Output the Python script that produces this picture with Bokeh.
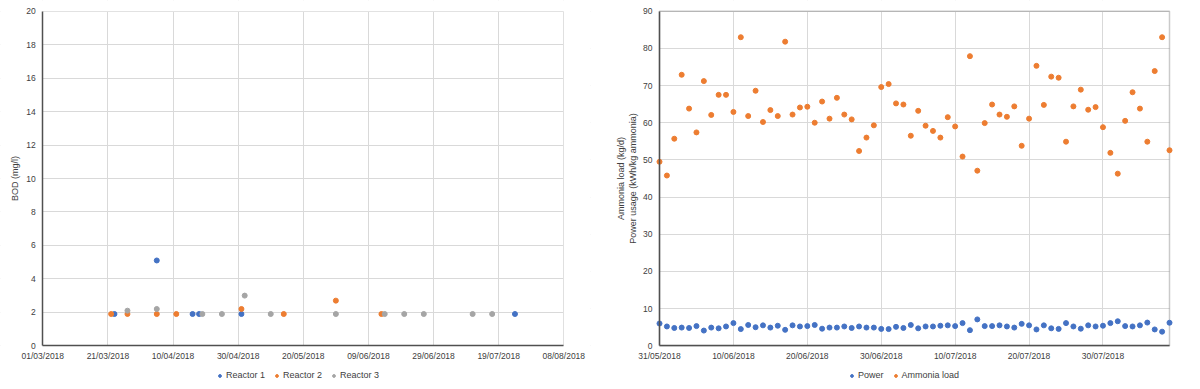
import pandas as pd
from bokeh.plotting import figure
from bokeh.models import (Range1d, FixedTicker, DatetimeTickFormatter, Legend, LegendItem,
                          ColumnDataSource, BoxAnnotation)
from bokeh.layouts import row
from bokeh.embed import file_html
from bokeh.resources import INLINE

# ---------------- data: left chart (BOD) ----------------
r1_dates = ["23/03/2018", "05/04/2018", "16/04/2018", "18/04/2018", "01/05/2018", "24/07/2018"]
r1_bod = [1.9, 5.1, 1.9, 1.9, 1.9, 1.9]
r2_dates = ["22/03/2018", "27/03/2018", "05/04/2018", "11/04/2018", "01/05/2018",
            "14/05/2018", "30/05/2018", "13/06/2018"]
r2_bod = [1.9, 1.9, 1.9, 1.9, 2.2, 1.9, 2.7, 1.9]
r3_dates = ["27/03/2018", "05/04/2018", "19/04/2018", "25/04/2018", "02/05/2018", "10/05/2018",
            "30/05/2018", "14/06/2018", "20/06/2018", "26/06/2018", "11/07/2018", "17/07/2018"]
r3_bod = [2.1, 2.2, 1.9, 1.9, 3.0, 1.9, 1.9, 1.9, 1.9, 1.9, 1.9, 1.9]
left_ticks = ["01/03/2018", "21/03/2018", "10/04/2018", "30/04/2018", "20/05/2018",
              "09/06/2018", "29/06/2018", "19/07/2018", "08/08/2018"]
left_yticks = [0, 2, 4, 6, 8, 10, 12, 14, 16, 18, 20]

# ---------------- data: right chart (ammonia / power) ----------------
right_start = "31/05/2018"
right_end = "08/08/2018"
ammonia = [49.5, 45.8, 55.7, 72.9, 63.8, 57.4, 71.2, 62.1, 67.5, 67.5,
           62.9, 83.0, 61.8, 68.6, 60.2, 63.4, 61.8, 81.8, 62.2, 64.1,
           64.3, 60.0, 65.7, 61.1, 66.7, 62.2, 60.9, 52.4, 56.0, 59.3,
           69.6, 70.4, 65.2, 64.9, 56.5, 63.2, 59.2, 57.8, 56.0, 61.5,
           59.0, 50.9, 77.9, 47.1, 59.9, 64.9, 62.2, 61.6, 64.4, 53.8,
           61.1, 75.3, 64.8, 72.4, 72.1, 54.9, 64.4, 68.9, 63.5, 64.2,
           58.8, 51.9, 46.3, 60.5, 68.2, 63.8, 54.9, 73.9, 83.0, 52.6]
power = [6.0, 5.2, 4.8, 4.9, 4.8, 5.3, 4.1, 4.9, 4.7, 5.2,
         6.1, 4.5, 5.6, 5.0, 5.5, 4.9, 5.4, 4.3, 5.5, 5.2,
         5.3, 5.6, 4.6, 4.9, 4.9, 5.2, 4.8, 5.2, 4.9, 4.9,
         4.55, 4.5, 5.1, 4.8, 5.6, 4.7, 5.2, 5.2, 5.4, 5.5,
         5.3, 6.1, 4.2, 7.1, 5.3, 5.3, 5.5, 5.2, 4.9, 5.9,
         5.5, 4.4, 5.5, 4.7, 4.55, 6.1, 5.2, 4.6, 5.5, 5.2,
         5.4, 6.1, 6.6, 5.3, 5.2, 5.5, 6.25, 4.4, 3.8, 6.2]
right_ticks = ["31/05/2018", "10/06/2018", "20/06/2018", "30/06/2018",
               "10/07/2018", "20/07/2018", "30/07/2018"]
right_yticks = [0, 10, 20, 30, 40, 50, 60, 70, 80, 90]

BLUE, ORANGE, GRAY = "#4472C4", "#ED7D31", "#A5A5A5"
TXT = "#404040"
AXIS = "#505050"
GRID = "#D9D9D9"
FONT = "Liberation Sans"

H = 389          # figure height
TOP_PX = 10.7    # pixel row (inside figure) of the top value
ZERO_PX = 345.3  # pixel row (inside figure) of the value 0


def d(s):
    return pd.to_datetime(s, dayfirst=True)


def ms(s):
    return d(s).value / 1e6


def yrange(top_val):
    per_px = top_val / (ZERO_PX - TOP_PX)
    return Range1d(-(H - ZERO_PX) * per_px, top_val + TOP_PX * per_px)


def xrange(start, end, width, left_px, right_px):
    per_px = (ms(end) - ms(start)) / (right_px - left_px)
    return Range1d(ms(start) - left_px * per_px, ms(end) + (width - right_px) * per_px)


def style(p, xticks, yticks, xstart, xend, ytop, label_standoff):
    fmt = "%d/%m/%Y"
    p.xaxis.ticker = FixedTicker(ticks=[ms(t) for t in xticks])
    p.xaxis.formatter = DatetimeTickFormatter(
        milliseconds=fmt, seconds=fmt, minsec=fmt, minutes=fmt, hourmin=fmt, hours=fmt,
        days=fmt, months=fmt, years=fmt)
    p.xaxis.fixed_location = 0
    p.xaxis.bounds = (ms(xstart), ms(xend))
    p.yaxis.ticker = FixedTicker(ticks=yticks)
    p.yaxis.fixed_location = ms(xstart)
    p.yaxis.bounds = (0, ytop)
    for ax in (p.xaxis[0], p.yaxis[0]):
        ax.major_tick_out = 0
        ax.major_tick_in = 0
        ax.minor_tick_out = 0
        ax.minor_tick_in = 0
        ax.axis_line_color = AXIS
        ax.axis_line_width = 1.5
        ax.major_label_text_font = FONT
        ax.major_label_text_font_size = "8.5px"
        ax.major_label_text_color = TXT
        ax.axis_label_text_font = FONT
        ax.axis_label_text_font_size = "9px"
        ax.axis_label_text_font_style = "normal"
        ax.axis_label_text_color = TXT
    p.yaxis.major_label_standoff = 7
    p.xaxis.major_label_standoff = 5
    p.yaxis.axis_label_standoff = label_standoff
    p.xgrid.grid_line_color = GRID
    p.ygrid.grid_line_color = GRID
    p.background_fill_color = "white"
    p.border_fill_color = "white"
    p.outline_line_color = None
    # white covers outside the plot area so the grid lines stop at its edges
    for kw in (dict(top=0), dict(bottom=ytop), dict(right=ms(xstart)), dict(left=ms(xend))):
        p.add_layout(BoxAnnotation(fill_color="white", fill_alpha=1, line_alpha=0,
                                   level="underlay", **kw))


def make_legend(items, x):
    return Legend(items=items, orientation="horizontal", location=(x, 8),
                  border_line_alpha=0, background_fill_alpha=0,
                  label_text_font=FONT, label_text_font_size="9px", label_text_color=TXT,
                  glyph_width=7, glyph_height=7, spacing=8, padding=0, margin=0,
                  label_standoff=3, label_height=12)


# ---------------- left figure ----------------
W1 = 590
p1 = figure(width=W1, height=H, x_axis_type="datetime",
            x_range=xrange(left_ticks[0], left_ticks[-1], W1, 42.3, 563.3),
            y_range=yrange(20),
            output_backend="svg", toolbar_location=None,
            min_border_left=0, min_border_right=0, min_border_top=0, min_border_bottom=0)
style(p1, left_ticks, left_yticks, left_ticks[0], left_ticks[-1], 20, 3)
p1.yaxis.axis_label = "BOD (mg/l)"

s1 = ColumnDataSource(dict(x=[d(t) for t in r1_dates], y=r1_bod))
s2 = ColumnDataSource(dict(x=[d(t) for t in r2_dates], y=r2_bod))
s3 = ColumnDataSource(dict(x=[d(t) for t in r3_dates], y=r3_bod))
g1 = p1.scatter("x", "y", source=s1, size=5, color=BLUE)
g2 = p1.scatter("x", "y", source=s2, size=5, color=ORANGE)
g3 = p1.scatter("x", "y", source=s3, size=5, color=GRAY)

p1.add_layout(make_legend([LegendItem(label="Reactor 1", renderers=[g1]),
                           LegendItem(label="Reactor 2", renderers=[g2]),
                           LegendItem(label="Reactor 3", renderers=[g3])], 216), "center")

# ---------------- right figure ----------------
W2 = 610
p2 = figure(width=W2, height=H, x_axis_type="datetime",
            x_range=xrange(right_start, right_end, W2, 69, 579),
            y_range=yrange(90),
            output_backend="svg", toolbar_location=None,
            min_border_left=0, min_border_right=0, min_border_top=0, min_border_bottom=0)
style(p2, right_ticks, right_yticks, right_start, right_end, 90, 2)
p2.yaxis.axis_label = "Ammonia load (kg/d)\nPower usage (kWh/kg ammonia)"
# plot-area border
p2.add_layout(BoxAnnotation(bottom=0, top=90, left=ms(right_start), right=ms(right_end),
                            fill_alpha=0, line_color=AXIS, line_width=1.5, level="underlay"))

dates = pd.date_range(d(right_start), periods=len(ammonia), freq="D")
src = ColumnDataSource(dict(x=dates, power=power, ammonia=ammonia))
gp = p2.scatter("x", "power", source=src, size=5, color=BLUE)
ga = p2.scatter("x", "ammonia", source=src, size=5, color=ORANGE)

p2.add_layout(make_legend([LegendItem(label="Power", renderers=[gp]),
                           LegendItem(label="Ammonia load", renderers=[ga])], 258), "center")

layout = row(p1, p2, spacing=0)
open("out.html", "w").write(file_html(layout, INLINE))
